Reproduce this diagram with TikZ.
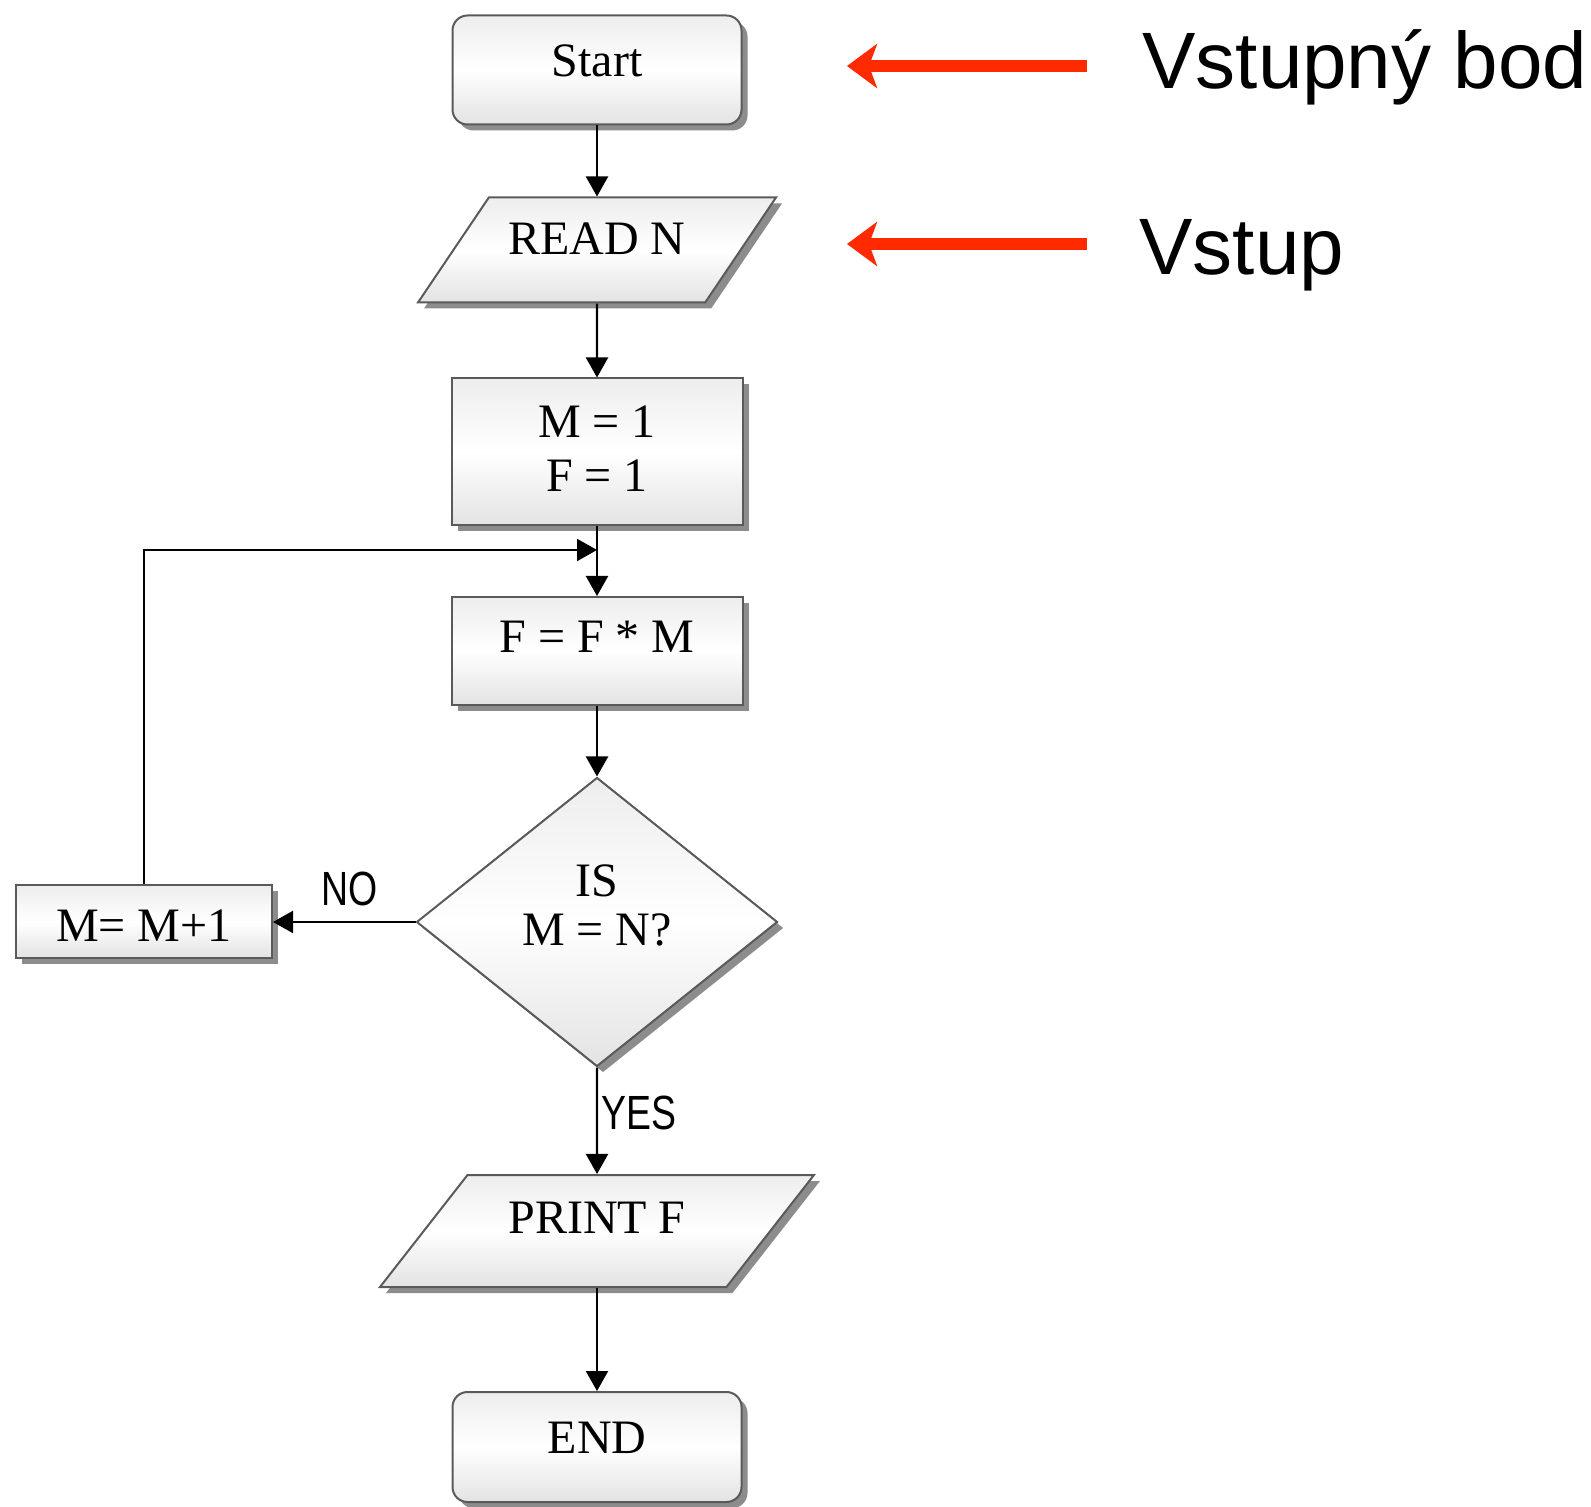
\documentclass[tikz,border=0pt]{standalone}
\usepackage{fontspec}
\setmainfont{Liberation Serif}
\newfontfamily\labelfont[FakeStretch=0.78]{Liberation Sans}
\newfontfamily\notefont{Liberation Sans}
\usetikzlibrary{shapes.geometric,shadows,arrows.meta}
\definecolor{notered}{HTML}{FF2A00}
\definecolor{boxedge}{HTML}{5A5A5A}
\begin{document}
\begin{tikzpicture}[x=0.5pt,y=-0.5pt,
  box/.style={draw=boxedge,line width=1pt,top color=gray!14,bottom color=gray!22,middle color=white,
    drop shadow={shadow xshift=3pt,shadow yshift=-3pt,fill=black!45,opacity=1},
    font=\fontsize{24}{27}\selectfont,inner sep=0pt},
  term/.style={box,rectangle,rounded corners=7.5pt},
  io/.style={box,trapezium,trapezium stretches body},
  test/.style={box,diamond},
  flow/.style={-{Triangle[length=10pt,width=11pt]},line width=1.1pt},
  tag/.style={font=\labelfont\fontsize{24}{28}\selectfont,inner sep=1.5pt},
  note/.style={-{Stealth[length=15pt,width=22pt,inset=4pt]},line width=6pt,notered},
  notetext/.style={anchor=base west,font=\notefont\fontsize{40}{48}\selectfont,inner sep=0pt}]
\useasboundingbox (0,0) rectangle (1591,1507);
\node [term,minimum width=144.5pt,text height=30.5pt,text depth=24pt] (start) at (597,70) {Start};
\node [io,trapezium left angle=56,trapezium right angle=124,minimum width=179pt,text height=28.75pt,text depth=23.75pt] (read) at (597,250) {READ N};
\node [box,rectangle,minimum width=145.5pt,text height=43.6pt,text depth=29.9pt] (init) at (597,452) {\begin{tabular}{@{}c@{}}M = 1\\F = 1\end{tabular}};
\node [box,rectangle,minimum width=145.5pt,text height=28pt,text depth=26pt] (mult) at (597,651) {F = F * M};
\node [test,minimum width=180.5pt,minimum height=144.5pt,text height=26pt,text depth=24pt,font=\fontsize{24}{24.5}\selectfont] (check) at (597,922) {\begin{tabular}{@{}c@{}}IS\\M = N?\end{tabular}};
\node [box,rectangle,minimum width=128pt,text height=28pt,text depth=8.5pt] (incr) at (144,922) {M= M+1};
\node [io,trapezium left angle=52,trapezium right angle=128,minimum width=217pt,text height=29pt,text depth=27pt] (print) at (597,1231) {PRINT F};
\node [term,minimum width=144.5pt,text height=30.5pt,text depth=24.5pt] (stop) at (597,1447) {END};
\coordinate (merge) at (597,550);
\draw [flow] (start) -- (read);
\draw [flow] (read) -- (init);
\draw [flow] (init) -- (mult);
\draw [flow] (incr.north) |- (merge);
\draw [flow] (mult) -- (check);
\draw [flow] (check.west) -- node [tag,above=6pt,pos=0.46]{NO} (incr.east);
\draw [flow] (check.south) -- node [tag,right,pos=0.43]{YES} (print.north);
\draw [flow] (print) -- (stop);
\node [notetext] (entry) at (1142,89) {Vstupný bod};
\node [notetext] (input) at (1139,275) {Vstup};
\coordinate (entrytail) at (1087,66);
\coordinate (entrytip) at (847,66);
\coordinate (inputtail) at (1087,244);
\coordinate (inputtip) at (847,244);
\draw [note] (entrytail) -- (entrytip);
\draw [note] (inputtail) -- (inputtip);
\end{tikzpicture}
\end{document}
